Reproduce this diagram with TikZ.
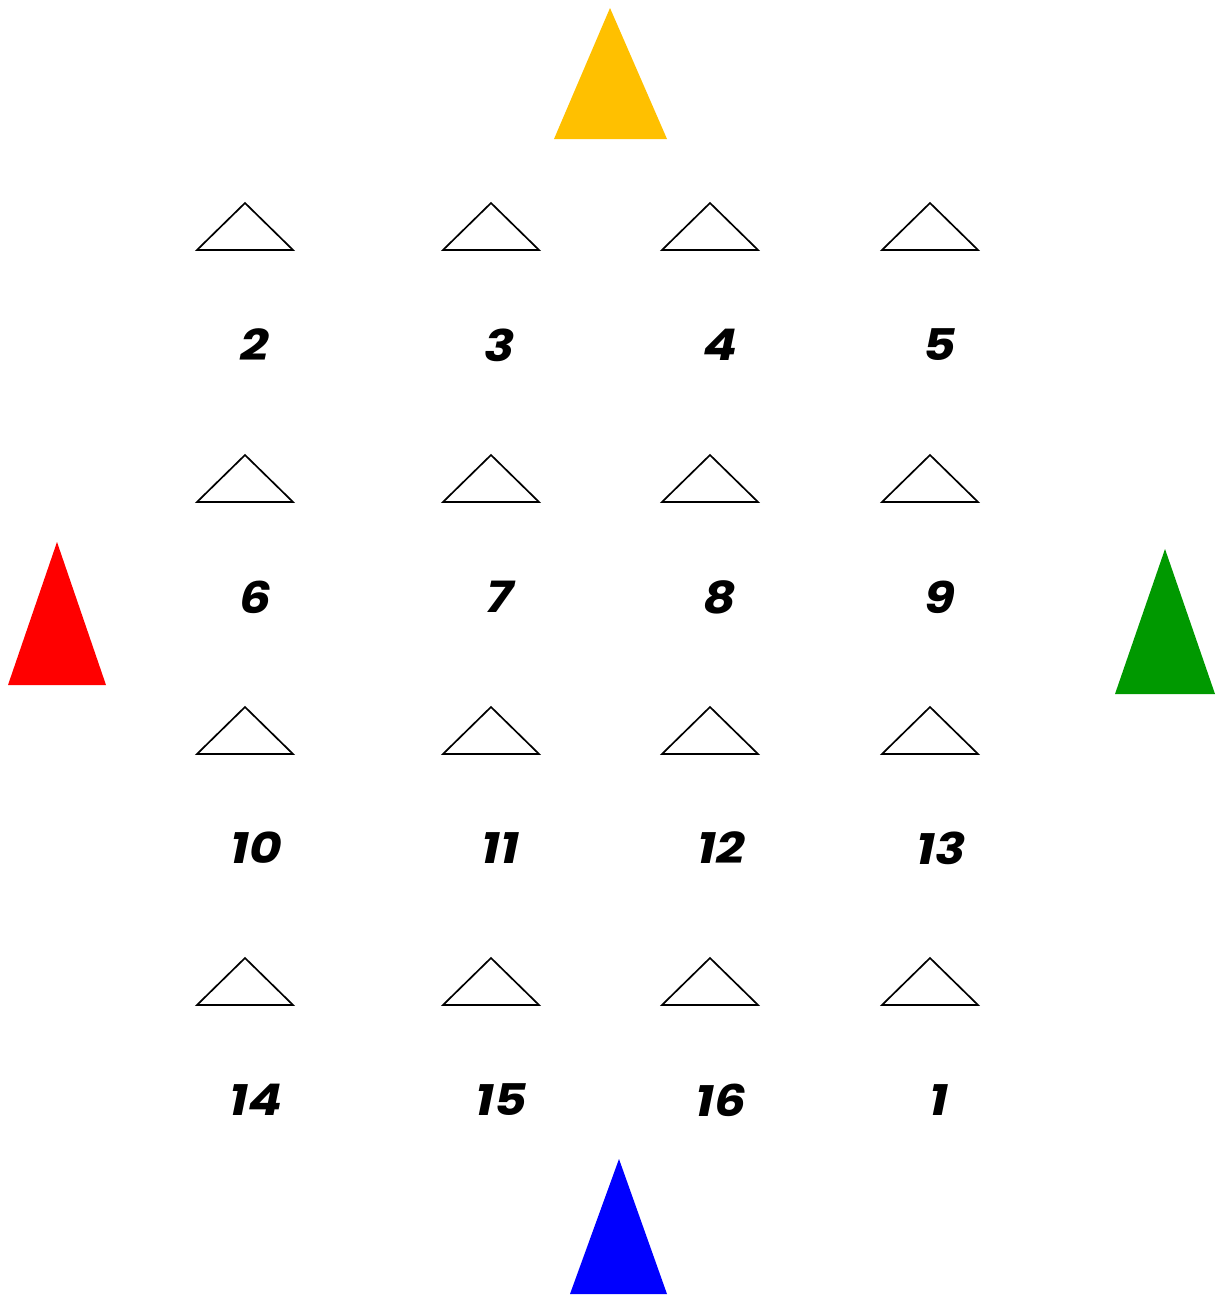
\documentclass[tikz,border=0pt]{standalone}
\usepackage{fontspec}
\setmainfont{Poppins}[FakeStretch=1.15]
\definecolor{gold}{HTML}{FFC000}
\definecolor{darkgreen}{HTML}{009900}
\tikzset{
  seat/.style={draw=black, line width=1.2pt, line join=miter},
  seatnum/.style={font=\fontsize{31}{33}\selectfont\bfseries\itshape, inner sep=0pt}
}
\begin{document}
\begin{tikzpicture}[x=0.025cm, y=-0.025cm]
    \useasboundingbox (0,0) rectangle (1220,1296);

    % farbige Spieler
    \fill[gold] (610,8) -- (667,139) -- (554,139) -- cycle;
    \fill[red] (57,542) -- (106,685) -- (8,685) -- cycle;
    \fill[darkgreen] (1165,549) -- (1215,694) -- (1115,694) -- cycle;
    \fill[blue] (619,1159) -- (667,1294) -- (570,1294) -- cycle;

    % Plaetze
    \foreach \row/\y in {1/203, 2/455, 3/707, 4/958} {
        \foreach \x in {245, 491, 710, 930} {
            \draw[seat] (\x,\y) -- (\x+48,\y+47) -- (\x-48,\y+47) -- cycle;
        }
    }

    % Nummern
    \foreach \n/\x/\y in {2/255/345, 3/500/345, 4/720/345, 5/940/345,
                          6/255/597, 7/500/597, 8/720/597, 9/940/597,
                          10/256/848, 11/500/848, 12/721/848, 13/941/848,
                          14/256/1100, 15/501/1100, 16/721/1100, 1/939/1100} {
        \node[seatnum] (num\n) at (\x,\y) {\n};
    }
\end{tikzpicture}
\end{document}
